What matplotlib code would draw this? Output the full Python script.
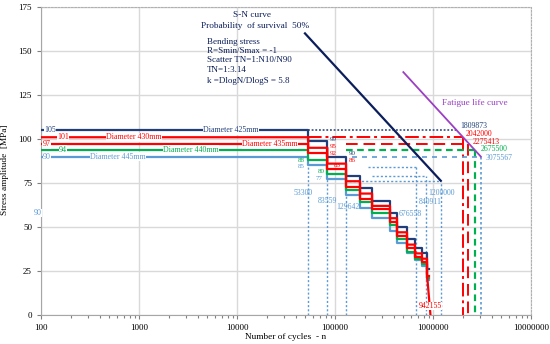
import numpy as np
import matplotlib
matplotlib.use("Agg")
import matplotlib.pyplot as plt
from matplotlib.ticker import LogLocator, FuncFormatter, NullFormatter

plt.rcParams['font.family'] = ['Liberation Serif', 'DejaVu Serif']

# staircase data (cycles where each level starts, stress levels)
step_n = [100, 53300, 83559, 129642, 180000, 239000, 364000, 429000, 543000, 655000, 772000, 869000]
end_n = 900000
blue_425 = [105, 99, 90, 79, 72, 65, 58, 50, 43, 38, 35, 26]
red_430 = [101, 95, 86, 76, 69, 62, 55, 47, 40, 35, 32, 23]
red_435 = [97, 92, 83, 73, 66, 60, 53, 45, 38, 33, 30, 22]
green_440 = [94, 88, 80, 71, 64, 58, 51, 43, 36, 32, 29, 21]
lblue_445 = [90, 85, 77, 68, 61, 55, 48, 41, 35, 31, 28, 20]
red_end_n = 942155

# S-N curve and fatigue life curve
sn_n = [49400, 1200000]
sn_s = [160, 76.3]
fl_n = [498000, 3075567]
fl_s = [138, 90]

# life lines at the right
life_n = [1809873, 2042000, 2275413, 2675500, 3075567]
life_s = [105, 101, 97, 94, 90]
life_start = [53300, 53300, 129642, 129642, 150000]

# dotted marker lines (light blue)
mark_n = [53300, 83559, 129642, 676558, 840911, 1200000]
mark_top = [85, 77, 68, 84, 79, 76]
hmark_s = [84, 79, 76]
hmark_from = [215000, 240000, 140000]
hmark_to = [676558, 840911, 1200000]

NAVY = '#203f7a'
DARK = '#0b1e5b'
RED = '#ff0000'
GREEN = '#00b050'
LBLUE = '#5b9bd5'
PURPLE = '#9b3fc4'

fig = plt.figure(figsize=(5.5, 3.44), dpi=100)
ax = fig.add_axes([41/550, 29/344, 490/550, 308/344])
ax.set_xscale('log')
ax.set_xlim(100, 1e7)
ax.set_ylim(0, 175)


def stairs(ns, levels, last):
    xs, ys = [], []
    for i, lv in enumerate(levels):
        x1 = ns[i + 1] if i + 1 < len(ns) else last
        xs += [ns[i], x1]
        ys += [lv, lv]
    return xs, ys


# dotted light blue markers
for n, top in zip(mark_n, mark_top):
    ax.plot([n, n], [0, top], color=LBLUE, lw=1, ls=(0, (1.5, 1.5)), zorder=2)
for s, a, b in zip(hmark_s, hmark_from, hmark_to):
    ax.plot([a, b], [s, s], color=LBLUE, lw=1, ls=(0, (1.5, 1.5)), zorder=2)

# right life lines
styles = [(NAVY, (0, (1.2, 1.2)), 1.1), (RED, (0, (7, 2, 1.5, 2)), 1.4),
          (RED, (0, (6, 3)), 1.4), (GREEN, (0, (3, 2)), 1.6), (LBLUE, (0, (3, 3)), 1.2)]
for i, (n, s, a) in enumerate(zip(life_n, life_s, life_start)):
    c, ls, lw = styles[i]
    ax.plot([a, n], [s, s], color=c, ls=ls, lw=lw, zorder=2)
    if i > 0:
        vls = (0, (1.5, 1.5)) if i == 4 else ls
        ax.plot([n, n], [s, 0], color=c, ls=vls, lw=lw, zorder=2)

# staircases
for levels, c in [(blue_425, NAVY), (lblue_445, LBLUE), (green_440, GREEN),
                  (red_435, RED), (red_430, RED)]:
    xs, ys = stairs(step_n, levels, end_n)
    if levels is red_430:
        xs, ys = xs[:-1], ys[:-1]
        xs.append(red_end_n)
        ys.append(0)
    ax.plot(xs, ys, color=c, lw=1.6, zorder=3)

ax.plot(sn_n, sn_s, color=DARK, lw=1.6, zorder=3)
ax.plot(fl_n, fl_s, color=PURPLE, lw=1.3, zorder=3)

box = dict(facecolor='white', edgecolor='none', pad=0.3)

# diameter labels
diam_txt = ['Diameter 425mm', 'Diameter 430mm', 'Diameter 435mm', 'Diameter 440mm', 'Diameter 445mm']
diam_n = [8690, 889, 21700, 3400, 611]
diam_s = [105, 101, 97, 94, 90]
diam_c = [NAVY, RED, RED, GREEN, LBLUE]
for t, n, s, c in zip(diam_txt, diam_n, diam_s, diam_c):
    ax.text(n, s, t, color=c, fontsize=5.7, ha='center', va='center', bbox=box, zorder=5)

# value labels
val_txt = ['105', '101', '97', '94', '90', '90', '99', '95', '92', '88', '85', '80', '77', '90', '86', '83']
val_n = [124, 168, 114, 168, 115, 93, 96100, 96100, 96100, 45700, 45700, 73200, 68700, 151700, 151700, 105500]
val_s = [105, 101, 97, 94, 90, 58, 99.5, 95.6, 91.5, 88, 84.3, 81.5, 77.3, 91.8, 88, 85.1]
val_c = [NAVY, RED, RED, GREEN, LBLUE, LBLUE, NAVY, RED, RED, GREEN, LBLUE, GREEN, LBLUE, NAVY, RED, RED]
for t, n, s, c in zip(val_txt, val_n, val_s, val_c):
    if n < 200:
        ax.text(n, s, t, color=c, fontsize=5.8, ha='center', va='center', bbox=box, zorder=5)
    else:
        ax.text(n, s, t, color=c, fontsize=5.0, ha='center', va='center', zorder=5)

# cycle labels
cyc_txt = ['53300', '83559', '129642', '676558', '840911', '1200000', '942155',
           '1809873', '2042000', '2275413', '2675500', '3075567']
cyc_n = [47100, 82800, 135800, 582000, 931000, 1227000, 931000, 2620000, 2950000, 3530000, 4190000, 4710000]
cyc_s = [69.3, 65, 61.5, 57.4, 64.2, 69.5, 5.1, 107.4, 102.8, 98.5, 94.1, 89]
cyc_c = [LBLUE, LBLUE, LBLUE, LBLUE, LBLUE, LBLUE, RED, NAVY, RED, RED, GREEN, LBLUE]
for t, n, s, c in zip(cyc_txt, cyc_n, cyc_s, cyc_c):
    bb = box if t == '942155' else None
    ax.text(n, s, t, color=c, fontsize=5.6, ha='center', va='center', bbox=bb, zorder=5)

# S-N annotation
ax.text(14130, 170.5, 'S-N curve', color=DARK, fontsize=6.7, ha='center', va='center')
ax.text(15280, 164.2, 'Probability  of survival  50%', color=DARK, fontsize=6.7, ha='center', va='center')
info = ['Bending stress', 'R=Smin/Smax = -1', 'Scatter TN=1:N10/N90', 'TN=1:3.14', 'k =DlogN/DlogS = 5.8']
info_s = [155.3, 150, 144.9, 139.2, 133.1]
for t, s in zip(info, info_s):
    ax.text(4910, s, t, color=DARK, fontsize=6.5, ha='left', va='center')
ax.text(2690000, 120.5, 'Fatigue life curve', color=PURPLE, fontsize=6.7, ha='center', va='center')

# axes styling
ax.grid(True, which='major', color='#d9d9d9', lw=1, zorder=0)
ax.set_axisbelow(True)
ax.set_yticks(np.arange(0, 176, 25))
ax.xaxis.set_major_locator(LogLocator(base=10, numticks=10))
ax.xaxis.set_minor_locator(LogLocator(base=10, subs=np.arange(2, 10), numticks=20))
ax.xaxis.set_major_formatter(FuncFormatter(lambda v, p: f"{int(round(v))}"))
ax.xaxis.set_minor_formatter(NullFormatter())
ax.tick_params(axis='both', which='major', labelsize=6.5, length=3, color='#808080', width=0.8)
ax.tick_params(axis='x', which='minor', length=2.5, color='#808080', width=0.8)
for sp in ['left', 'bottom']:
    ax.spines[sp].set_color('#a6a6a6')
for sp in ['top', 'right']:
    ax.spines[sp].set_color('#b0b0b0')
    ax.spines[sp].set_linestyle((0, (1.5, 1.5)))
ax.set_xlabel('Number of cycles  - n', fontsize=6.7, labelpad=1)
ax.set_ylabel('Stress amplitude  [MPa]', fontsize=6.7)
ax.yaxis.set_label_coords(-0.065, 0.47)

fig.savefig('out.png', dpi=100)
